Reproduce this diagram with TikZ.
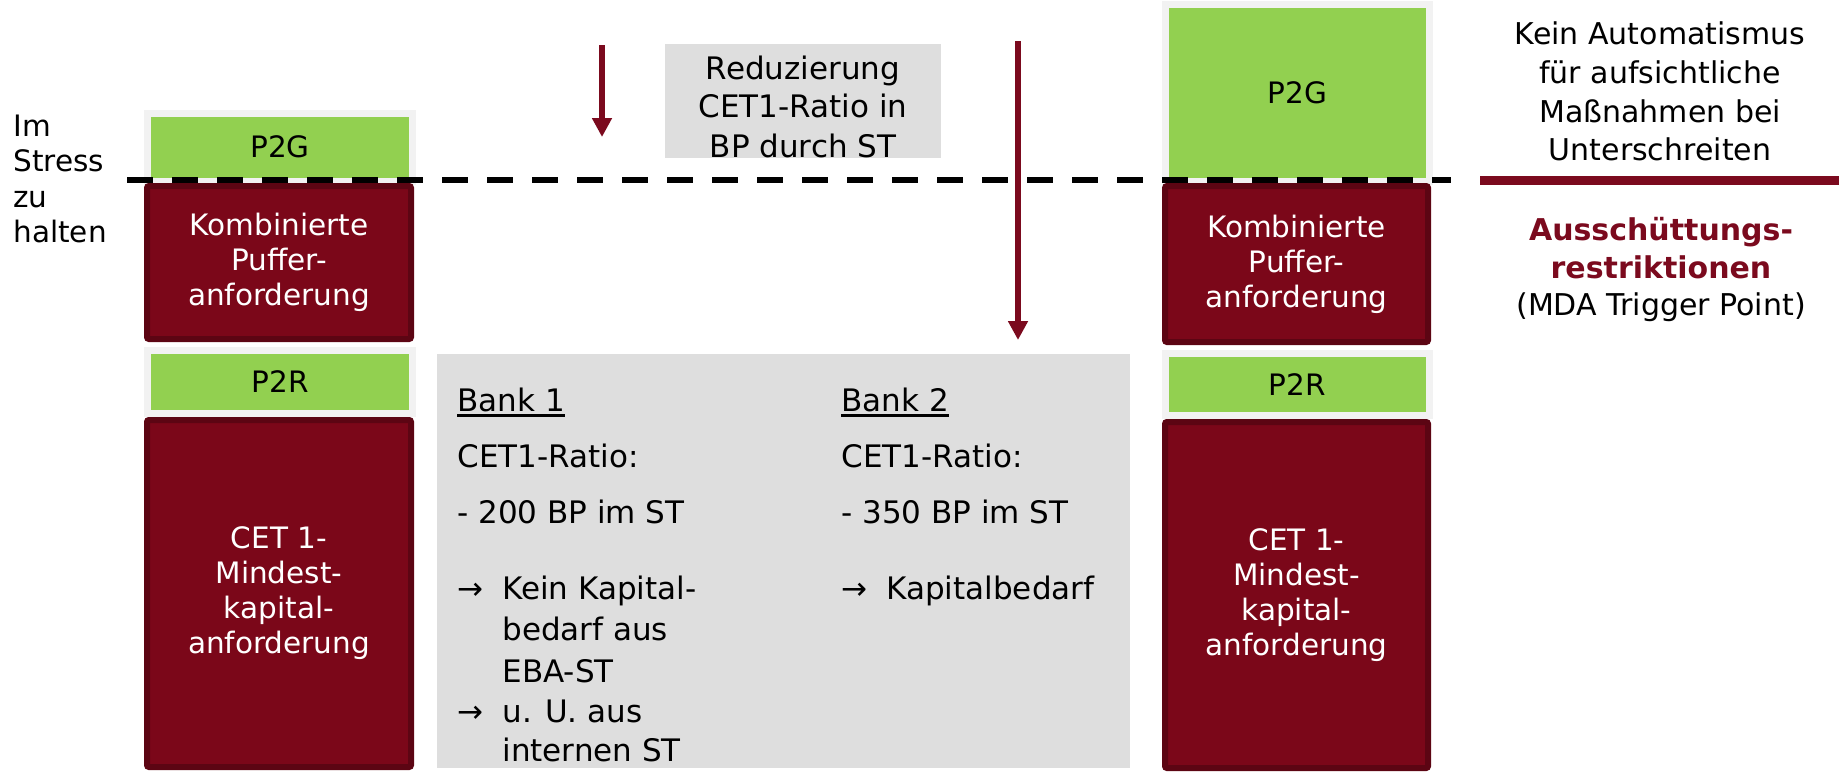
\documentclass[tikz,border=0pt]{standalone}
\usepackage{fontspec}
\setmainfont{DejaVu Sans}
\usetikzlibrary{arrows.meta}

\definecolor{wine}{HTML}{7B0719}
\definecolor{wineedge}{HTML}{5C0513}
\definecolor{leaf}{HTML}{92D050}
\definecolor{framegray}{HTML}{F2F2F2}
\definecolor{panelgray}{HTML}{DEDEDE}
\definecolor{accent}{HTML}{7B0A1E}

\newcommand\boxfont{\fontsize{14.75pt}{17.5pt}\selectfont}
\newcommand\panelfont{\fontsize{15.5pt}{19pt}\selectfont}
\newcommand\notefont{\fontsize{15pt}{19.5pt}\selectfont}
% underline with a heavier rule than \underline gives
\newcommand\thickul[1]{\setbox0\hbox{#1}\rlap{\vrule height -1.5pt depth 3pt width \wd0}\box0}

\tikzset{
  capbox/.style={rectangle, rounded corners=1pt, fill=wine, draw=wineedge,
    line width=3pt, text=white, align=center, font=\boxfont, inner sep=0pt},
  greenbox/.style={rectangle, fill=leaf, draw=framegray, line width=3.5pt,
    font=\boxfont, inner sep=0pt},
  panelbox/.style={rectangle, fill=panelgray, draw=none, inner sep=0pt},
  sidelabel/.style={inner sep=0pt, anchor=base west, font=\boxfont},
  paneltext/.style={inner sep=0pt, anchor=base west, font=\panelfont},
  centertext/.style={inner sep=0pt, anchor=base, font=\panelfont},
  notetext/.style={inner sep=0pt, anchor=base, font=\notefont},
  threshold/.style={line width=2.75pt, dash pattern=on 13pt off 9.5pt},
  drop/.style={draw=accent, line width=3pt,
    -{Triangle[width=9.5pt,length=9.5pt]}}
}

\begin{document}
\begin{tikzpicture}[x=0.5pt,y=-0.5pt]
\useasboundingbox (0,0) rectangle (1839,771);

% ---- left capital stack ----
\node[greenbox, minimum width=132.5pt, minimum height=33.75pt] (lp2g) at (280,147.25) {P2G};
\node[capbox, minimum width=132pt, minimum height=76.5pt] (lcbr) at (279,262.5)
  {Kombinierte\\Puffer-\\anforderung};
\node[greenbox, minimum width=132.5pt, minimum height=31.5pt] (lp2r) at (280,382) {P2R};
\node[capbox, minimum width=132pt, minimum height=173.5pt] (lmin) at (279,593.5)
  {CET 1-\\Mindest-\\kapital-\\anforderung};

% ---- right capital stack ----
\node[greenbox, minimum width=132pt, minimum height=88.25pt] (rp2g) at (1297.5,92.75) {P2G};
\node[capbox, minimum width=131.5pt, minimum height=78pt] (rcbr) at (1296.5,264)
  {Kombinierte\\Puffer-\\anforderung};
\node[greenbox, minimum width=132pt, minimum height=31pt] (rp2r) at (1297.5,384.5) {P2R};
\node[capbox, minimum width=131.5pt, minimum height=173pt] (rmin) at (1296.5,595)
  {CET 1-\\Mindest-\\kapital-\\anforderung};

% ---- label on the left ----
\node[sidelabel] (s1) at (13,136) {Im};
\node[sidelabel] (s2) at (13,171) {Stress};
\node[sidelabel] (s3) at (13,207) {zu};
\node[sidelabel] (s4) at (13,242) {halten};

% ---- reduction note ----
\node[panelbox, minimum width=138pt, minimum height=57pt] (redbox) at (803,101) {};
\node[centertext] (r1) at (803,79) {Reduzierung};
\node[centertext] (r2) at (803,117) {CET1-Ratio in};
\node[centertext] (r3) at (803,157) {BP durch ST};

% ---- bank comparison panel ----
\node[panelbox, minimum width=346.5pt, minimum height=207pt] (bankbox) at (783.5,561) {};
\node[paneltext] (a1) at (457,411) {\thickul{Bank 1}};
\node[paneltext] (a2) at (457,467) {CET1-Ratio:};
\node[paneltext] (a3) at (457,523) {- 200 BP im ST};
\node[paneltext] (a4) at (457,599) {→};
\node[paneltext] (a5) at (502,599) {Kein Kapital-};
\node[paneltext] (a6) at (502,640) {bedarf aus};
\node[paneltext] (a7) at (502,682) {EBA-ST};
\node[paneltext] (a8) at (457,722) {→};
\node[paneltext] (a9) at (502,722) {u. U. aus};
\node[paneltext] (a10) at (502,761) {internen ST};
\node[paneltext] (c1) at (841,411) {\thickul{Bank 2}};
\node[paneltext] (c2) at (841,467) {CET1-Ratio:};
\node[paneltext] (c3) at (841,523) {- 350 BP im ST};
\node[paneltext] (c4) at (841,599) {→};
\node[paneltext] (c5) at (886,599) {Kapitalbedarf};

% ---- notes on the right ----
\node[notetext] (n1) at (1660,44) {Kein Automatismus};
\node[notetext] (n2) at (1660,83) {für aufsichtliche};
\node[notetext] (n3) at (1660,122) {Maßnahmen bei};
\node[notetext] (n4) at (1660,160) {Unterschreiten};
\node[notetext, text=accent, font=\notefont\bfseries] (m1) at (1661,240) {Ausschüttungs-};
\node[notetext, text=accent, font=\notefont\bfseries] (m2) at (1661,278) {restriktionen};
\node[notetext] (m3) at (1661,315) {(MDA Trigger Point)};

% ---- threshold lines ----
\coordinate (dl) at (127,180);
\coordinate (dr) at (1451,180);
\draw[threshold] (dl) -- (dr);
\coordinate (tl) at (1480,180);
\coordinate (tr) at (1839,180);
\draw[accent, line width=4.5pt] (tl) -- (tr);

% ---- arrows ----
\coordinate (ss) at (602,45);
\coordinate (se) at (602,137);
\draw[drop] (ss) -- (se);
\coordinate (ls) at (1018,41);
\coordinate (le) at (1018,340);
\draw[drop] (ls) -- (le);
\end{tikzpicture}
\end{document}
